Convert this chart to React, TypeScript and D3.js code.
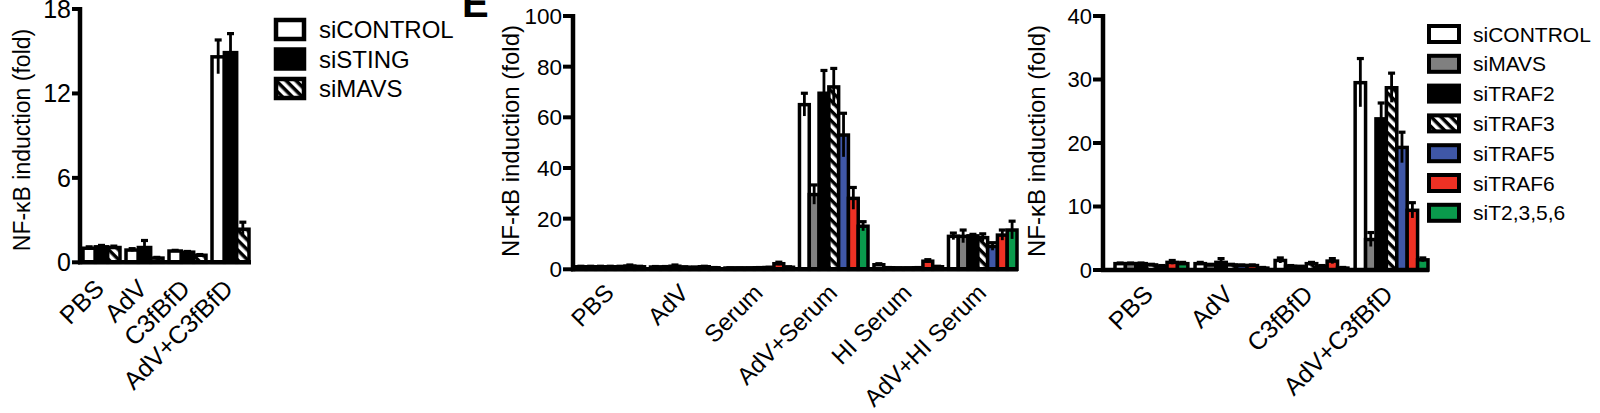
import * as d3 from 'd3';

const FONT = '"Liberation Sans", Arial, Helvetica, sans-serif';

// ---- panel 1 (siSTING / siMAVS) ----
const groups1 = ['PBS', 'AdV', 'C3fBfD', 'AdV+C3fBfD'];
const series1 = ['siCONTROL', 'siSTING', 'siMAVS'];
const means1 = [
  [1.0, 0.87, 0.8, 14.6], // siCONTROL
  [1.1, 1.05, 0.72, 14.9], // siSTING
  [1.05, 0.3, 0.5, 2.35], // siMAVS
];
const errors1 = [
  [0.1, 0.1, 0.05, 1.2],
  [0.1, 0.5, 0.05, 1.35],
  [0.1, 0.05, 0.05, 0.5],
];
const ticks1 = [0, 6, 12, 18];

// ---- panel 2 (serum) ----
const groups2 = ['PBS', 'AdV', 'Serum', 'AdV+Serum', 'HI Serum', 'AdV+HI Serum'];
const series2 = ['siCONTROL', 'siMAVS', 'siTRAF2', 'siTRAF3', 'siTRAF5', 'siTRAF6', 'siT2,3,5,6'];
const means2 = [
  [1.0, 0.9, 0.5, 65, 1.8, 13],
  [1.0, 0.9, 0.5, 29.5, 0.6, 13],
  [1.0, 1.2, 0.5, 69.5, 0.5, 13.2],
  [1.0, 0.8, 0.6, 72, 0.5, 12.5],
  [1.0, 0.7, 0.7, 53, 0.6, 9],
  [1.3, 1.0, 2.2, 28, 3.2, 13.5],
  [1.0, 0.6, 0.8, 17, 1.0, 15.5],
];
const errors2 = [
  [0.2, 0.2, 0.1, 4.5, 0.4, 1.3],
  [0.2, 0.2, 0.1, 3.8, 0.1, 2.5],
  [0.2, 0.5, 0.1, 9, 0.1, 0.6],
  [0.2, 0.2, 0.1, 7.3, 0.1, 1.5],
  [0.2, 0.2, 0.1, 8.6, 0.1, 1.5],
  [0.4, 0.2, 0.6, 4.3, 0.6, 2],
  [0.2, 0.1, 0.2, 1.8, 0.2, 3.5],
];
const ticks2 = [0, 20, 40, 60, 80, 100];

// ---- panel 3 (C3fBfD, TRAFs) ----
const groups3 = ['PBS', 'AdV', 'C3fBfD', 'AdV+C3fBfD'];
const series3 = ['siCONTROL', 'siMAVS', 'siTRAF2', 'siTRAF3', 'siTRAF5', 'siTRAF6', 'siT2,3,5,6'];
const means3 = [
  [1.0, 1.0, 1.5, 29.5],
  [1.0, 0.8, 0.6, 4.8],
  [1.0, 1.2, 0.5, 23.8],
  [0.8, 0.8, 1.0, 28.7],
  [0.6, 0.7, 0.6, 19.3],
  [1.2, 0.7, 1.4, 9.4],
  [1.0, 0.3, 0.3, 1.6],
];
const errors3 = [
  [0.1, 0.2, 0.4, 3.8],
  [0.1, 0.1, 0.1, 1.1],
  [0.1, 0.6, 0.1, 2.5],
  [0.1, 0.1, 0.2, 2.3],
  [0.1, 0.1, 0.1, 2.4],
  [0.3, 0.1, 0.4, 1.2],
  [0.2, 0.1, 0.1, 0.3],
];
const ticks3 = [0, 10, 20, 30, 40];

const fills1 = ['#ffffff', '#000000', 'url(#hatch)'];
const fills23 = ['#ffffff', '#808080', '#000000', 'url(#hatch)', '#3f57a7', '#ee3124', '#0a9a4c'];

type PanelProps = {
  groups: string[];
  series: string[];
  means: number[][];
  errors: number[][];
  ticks: number[];
  fills: string[];
  axisX: number;
  zeroY: number;
  topY: number;
  x0: number;
  x1: number;
  pad: number;
  axisEnd: number;
  tickLen: number;
  tickFont: number;
  labelFont: number;
  labelDx: number;
  labelDy: number;
  yLabelX: number;
  yLabelY: number;
  yLabelFont: number;
};

const Panel = (p: PanelProps) => {
  const y = d3.scaleLinear().domain([0, d3.max(p.ticks) as number]).range([p.zeroY, p.topY]);
  const xg = d3.scaleBand<string>().domain(p.groups).range([p.x0, p.x1]).paddingInner(p.pad).paddingOuter(0);
  const xs = d3.scaleBand<string>().domain(p.series).range([0, xg.bandwidth()]);
  const bw = xs.bandwidth();

  const bars: JSX.Element[] = [];
  const errs: JSX.Element[] = [];
  p.groups.forEach((g, j) => {
    p.series.forEach((s, i) => {
      const v = p.means[i][j];
      const e = p.errors[i][j];
      const bx = (xg(g) as number) + (xs(s) as number);
      const cx = bx + bw / 2;
      bars.push(
        <rect key={`b${i}-${j}`} x={bx} y={y(v)} width={bw} height={p.zeroY - y(v)}
          fill={p.fills[i]} stroke="#000" strokeWidth={3.5} />
      );
      errs.push(
        <g key={`e${i}-${j}`} stroke="#000">
          <line x1={cx} x2={cx} y1={y(v - e)} y2={y(v + e)} strokeWidth={2.8} />
          <line x1={cx - 3.5} x2={cx + 3.5} y1={y(v + e)} y2={y(v + e)} strokeWidth={3.2} />
        </g>
      );
    });
  });

  return (
    <g fontFamily={FONT}>
      {bars}
      {errs}
      <line x1={p.axisX} x2={p.axisX} y1={p.zeroY + 2} y2={p.topY - 2} stroke="#000" strokeWidth={4.5} />
      <line x1={p.axisX - 2} x2={p.axisEnd} y1={p.zeroY} y2={p.zeroY} stroke="#000" strokeWidth={4.5} />
      {p.ticks.map((t) => (
        <g key={t}>
          <line x1={p.axisX - p.tickLen} x2={p.axisX} y1={y(t)} y2={y(t)} stroke="#000" strokeWidth={4} />
          <text x={p.axisX - p.tickLen - 1} y={y(t)} dy="0.36em" textAnchor="end" fontSize={p.tickFont}>
            {t}
          </text>
        </g>
      ))}
      {p.groups.map((g) => (
        <text key={g} textAnchor="end" fontSize={p.labelFont}
          transform={`translate(${(xg(g) as number) + xg.bandwidth() / 2 + p.labelDx},${p.zeroY + p.labelDy}) rotate(-45)`}>
          {g}
        </text>
      ))}
      <text textAnchor="middle" fontSize={p.yLabelFont}
        transform={`translate(${p.yLabelX},${p.yLabelY}) rotate(-90)`}>
        NF-κB induction (fold)
      </text>
    </g>
  );
};

type LegendProps = {
  series: string[];
  fills: string[];
  x: number;
  y: number;
  pitch: number;
  boxW: number;
  boxH: number;
  stroke: number;
  textX: number;
  font: number;
};

const Legend = (p: LegendProps) => (
  <g fontFamily={FONT}>
    {p.series.map((s, i) => (
      <g key={s}>
        <rect x={p.x} y={p.y + i * p.pitch} width={p.boxW} height={p.boxH}
          fill={p.fills[i]} stroke="#000" strokeWidth={p.stroke} />
        <text x={p.textX} y={p.y + i * p.pitch + p.boxH / 2} dy="0.36em" fontSize={p.font}>
          {s}
        </text>
      </g>
    ))}
  </g>
);

export default function App() {
  return (
    <svg width={1600} height={413} style={{ position: 'absolute', left: 0, top: 0, background: '#fff' }}>
      <defs>
        <pattern id="hatch" patternUnits="userSpaceOnUse" width={7} height={7} patternTransform="rotate(-45)">
          <rect width={7} height={7} fill="#000" />
          <rect width={3.5} height={7} fill="#fff" />
        </pattern>
      </defs>
      <rect width={1600} height={413} fill="#fff" />

      <Panel groups={groups1} series={series1} means={means1} errors={errors1} ticks={ticks1} fills={fills1}
        axisX={80} zeroY={262.3} topY={9} x0={83} x1={249} pad={0.14} axisEnd={251}
        tickLen={8} tickFont={25} labelFont={25} labelDx={4} labelDy={28}
        yLabelX={30} yLabelY={140} yLabelFont={23} />
      <Legend series={series1} fills={fills1} x={276} y={20} pitch={29.5} boxW={28} boxH={19}
        stroke={4.5} textX={319} font={24} />

      <text x={462} y={17} fontFamily={FONT} fontWeight="bold" fontSize={40}>E</text>

      <Panel groups={groups2} series={series2} means={means2} errors={errors2} ticks={ticks2} fills={fills23}
        axisX={573} zeroY={269.3} topY={16} x0={576} x1={1017} pad={0.08} axisEnd={1018}
        tickLen={10} tickFont={22.5} labelFont={24} labelDx={5} labelDy={25}
        yLabelX={519} yLabelY={141} yLabelFont={24} />

      <Panel groups={groups3} series={series3} means={means3} errors={errors3} ticks={ticks3} fills={fills23}
        axisX={1103} zeroY={270} topY={16} x0={1115} x1={1428} pad={0.09} axisEnd={1429}
        tickLen={10} tickFont={22} labelFont={25} labelDx={3} labelDy={26}
        yLabelX={1045} yLabelY={141} yLabelFont={24} />
      <Legend series={series3} fills={fills23} x={1429} y={26} pitch={29.8} boxW={30} boxH={16}
        stroke={4} textX={1473} font={21} />
    </svg>
  );
}
